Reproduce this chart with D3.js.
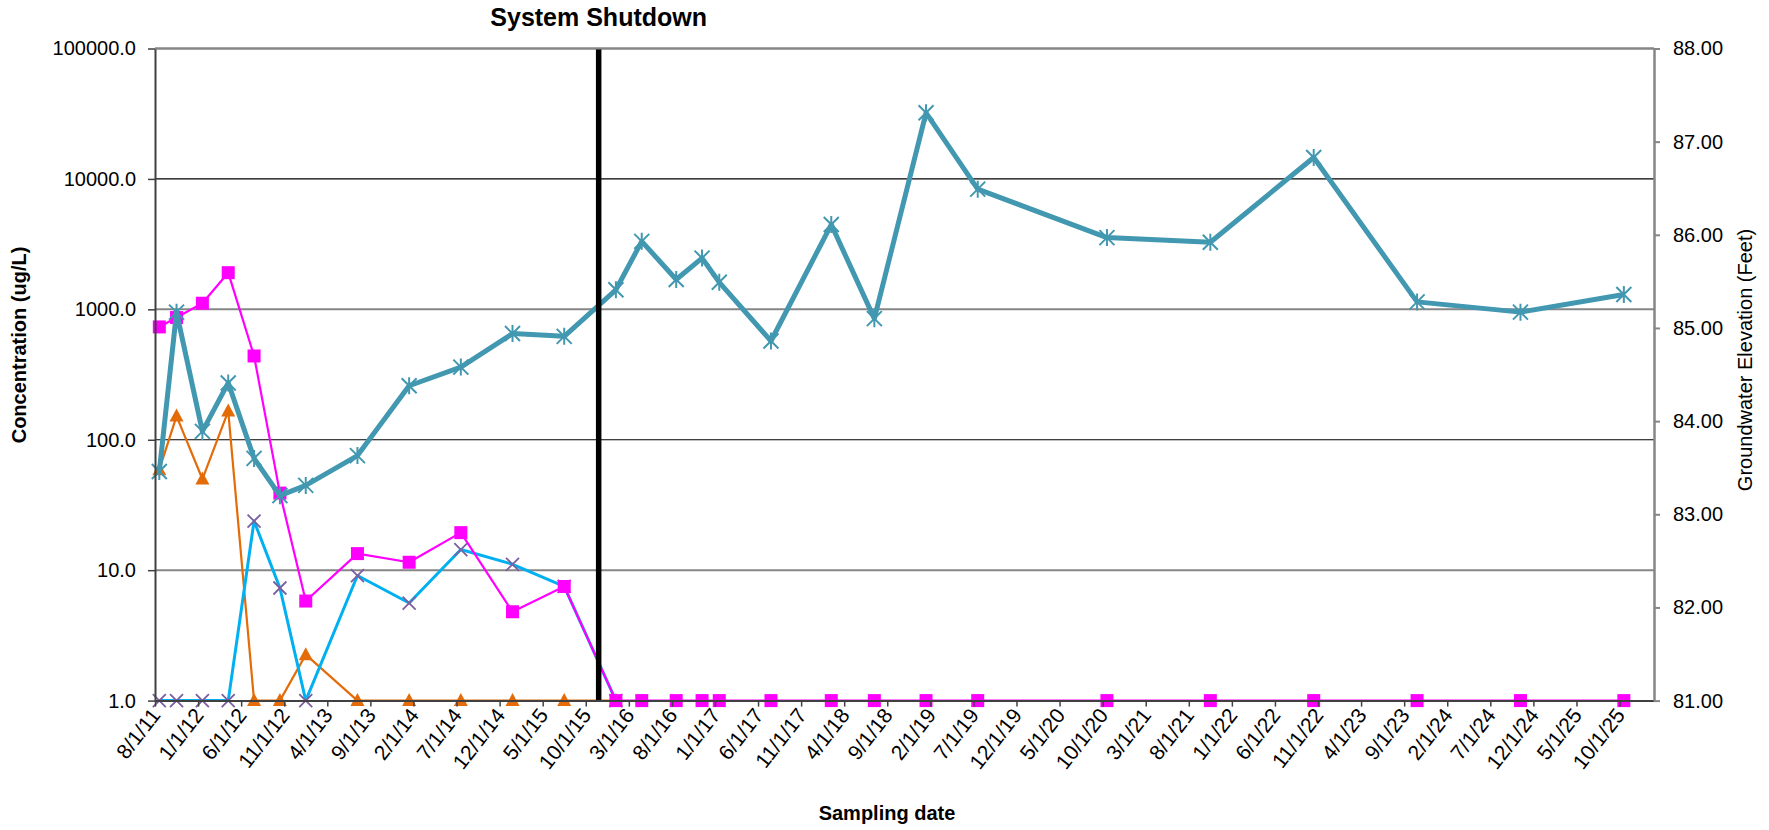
<!DOCTYPE html>
<html><head><meta charset="utf-8">
<script src="https://cdn.jsdelivr.net/npm/d3@7"></script>
<style>
body{margin:0;background:#fff;}
text{font-family:"Liberation Sans",Arial,Helvetica,sans-serif;fill:#000;}
</style>
</head><body>
<svg id="chart" width="1769" height="830"></svg>
<script>
// ---------------- DATA ----------------
const sampleDates = ["2011-08","2011-10","2012-01","2012-04","2012-07","2012-10","2013-01","2013-07",
  "2014-01","2014-07","2015-01","2015-07","2016-01","2016-04","2016-08","2016-11","2017-01","2017-07",
  "2018-02","2018-07","2019-01","2019-07","2020-10","2021-10","2022-10","2023-10","2024-10","2025-10"];
// groundwater elevation (feet), right axis
const groundwaterElevation = [83.46,85.17,83.89,84.41,83.60,83.20,83.31,83.63,
  84.38,84.58,84.94,84.91,85.41,85.93,85.52,85.75,85.49,84.86,
  86.11,85.10,87.31,86.49,85.97,85.92,86.83,85.28,85.17,85.36];
// concentration series (ug/L), left axis
const concSquare = [733,865,1114,1910,439,39,5.8,13.4,11.5,19.4,4.8,7.5,
  1,1,1,1,1,1,1,1,1,1,1,1,1,1,1,1];
const concCross = [1,1,1,1,23.8,7.3,1,9.1,5.6,14.4,11.1,7.5,1];
const concTriangle = [59,152,50,166,1,1,2.25,1,1,1,1,1,1];
const leftTicks = [1,10,100,1000,10000,100000];
const rightTicks = [81,82,83,84,85,86,87,88];
const shutdownMonth = "2015-11";
const shutdownLabel = "System Shutdown";
const axisStartMonth = "2011-08";
const axisMonthCount = 174;
const tickEveryMonths = 5;
const xTitle = "Sampling date";
const yLeftTitle = "Concentration (ug/L)";
const yRightTitle = "Groundwater Elevation (Feet)";

// ---------------- LAYOUT ----------------
const L = 155, R = 1654, T = 48.5, B = 700.6;
const svg = d3.select("#chart");
const parse = d3.timeParse("%Y-%m");
const start = parse(axisStartMonth);
const mIdx = s => d3.timeMonth.count(start, parse(s));
const x = d3.scaleLinear().domain([0, axisMonthCount]).range([L, R]);
const xp = s => x(mIdx(s) + 0.5);          // points sit between tick marks
const yL = d3.scaleLog().domain([1, 100000]).range([B, T]);
const yR = d3.scaleLinear().domain([81, 88]).range([B, T]);
const FONT = '"Liberation Sans",Arial,sans-serif';

// gridlines
const grid = svg.append("g");
leftTicks.slice(1).forEach((v, i) => {
  const gray = (i % 2 === 0);
  grid.append("line").attr("x1", L).attr("x2", R).attr("y1", yL(v)).attr("y2", yL(v))
    .attr("stroke", gray ? "#868686" : "#000").attr("stroke-width", gray ? 2 : 1.2);
});

// ---------------- SERIES ----------------
function drawSeries(vals, color, width, yScale) {
  const pts = vals.map((v, i) => [xp(sampleDates[i]), yScale(v)]);
  svg.append("path").attr("d", d3.line()(pts)).attr("fill", "none")
    .attr("stroke", color).attr("stroke-width", width).attr("stroke-linejoin", "round");
  return pts;
}

// triangle series
const triPts = drawSeries(concTriangle, "#E36C09", 2.2, yL);
svg.append("g").selectAll("path").data(triPts).join("path")
  .attr("transform", d => `translate(${d[0]},${d[1]})`)
  .attr("d", "M0,-7.5L7,5.5L-7,5.5Z").attr("fill", "#E36C09");

// cross series
const crsPts = drawSeries(concCross, "#00B0F0", 3, yL);
svg.append("g").selectAll("path").data(crsPts).join("path")
  .attr("transform", d => `translate(${d[0]},${d[1]})`)
  .attr("d", "M-6.5,-6.5L6.5,6.5M-6.5,6.5L6.5,-6.5").attr("stroke", "#7B5FA0").attr("stroke-width", 1.8).attr("fill", "none");

// square series
const sqPts = drawSeries(concSquare, "#FF00FF", 2.2, yL);
svg.append("g").selectAll("rect").data(sqPts).join("rect")
  .attr("x", d => d[0] - 6.5).attr("y", d => d[1] - 6.5).attr("width", 13).attr("height", 13).attr("fill", "#FF00FF");

// groundwater series
const gwPts = drawSeries(groundwaterElevation, "#4298B0", 5, yR);
svg.append("g").selectAll("path").data(gwPts).join("path")
  .attr("transform", d => `translate(${d[0]},${d[1]})`)
  .attr("d", "M-7.5,-7.5L7.5,7.5M-7.5,7.5L7.5,-7.5M0,-8.5L0,8.5").attr("stroke", "#4298B0").attr("stroke-width", 2).attr("fill", "none");

// shutdown line
const xs = xp(shutdownMonth);
svg.append("line").attr("x1", xs).attr("x2", xs).attr("y1", T).attr("y2", B)
  .attr("stroke", "#000").attr("stroke-width", 5.5);
svg.append("text").attr("x", xs).attr("y", 26).attr("text-anchor", "middle")
  .style("font-size", "25px").style("font-weight", "bold").text(shutdownLabel);

// ---------------- AXES ----------------
const fmtDate = d3.timeFormat("%-m/%-d/%y");
const xTicks = d3.range(0, axisMonthCount, tickEveryMonths);
const gx = svg.append("g").attr("transform", `translate(0,${B})`)
  .call(d3.axisBottom(x).tickValues(xTicks).tickSize(6).tickSizeOuter(0)
    .tickFormat(i => fmtDate(d3.timeMonth.offset(start, i))));
gx.select(".domain").attr("stroke", "#404040").attr("stroke-width", 2);
gx.selectAll(".tick line").attr("stroke", "#404040").attr("stroke-width", 1.5);
gx.selectAll("text").attr("x", 0).attr("y", 0).attr("dy", 0)
  .attr("transform", "translate(6,15) rotate(-52)").style("text-anchor", "end")
  .style("font-size", "21px").style("font-family", FONT).attr("fill", "#000");

const gl = svg.append("g").attr("transform", `translate(${L},0)`)
  .call(d3.axisLeft(yL).tickValues(leftTicks).tickFormat(d3.format(".1f")).tickSize(7).tickSizeOuter(0).tickPadding(12));
gl.select(".domain").attr("stroke", "#404040").attr("stroke-width", 2);
gl.selectAll(".tick line").attr("stroke", "#404040").attr("stroke-width", 1.5);
gl.selectAll("text").style("font-size", "20px").style("font-family", FONT).attr("fill", "#000");

const gr = svg.append("g").attr("transform", `translate(${R},0)`)
  .call(d3.axisRight(yR).tickValues(rightTicks).tickFormat(d3.format(".2f")).tickSize(6).tickSizeOuter(0).tickPadding(13));
gr.select(".domain").attr("stroke", "#868686").attr("stroke-width", 2.5);
gr.selectAll(".tick line").attr("stroke", "#868686").attr("stroke-width", 2);
gr.selectAll("text").style("font-size", "20px").style("font-family", FONT).attr("fill", "#000");

// top border
svg.append("line").attr("x1", L).attr("x2", R).attr("y1", T).attr("y2", T)
  .attr("stroke", "#868686").attr("stroke-width", 2);

// axis titles
svg.append("text").attr("x", 887).attr("y", 820).attr("text-anchor", "middle")
  .style("font-size", "20px").style("font-weight", "bold").text(xTitle);
svg.append("text").attr("transform", "translate(26,345) rotate(-90)").attr("text-anchor", "middle")
  .style("font-size", "20px").style("font-weight", "bold").text(yLeftTitle);
svg.append("text").attr("transform", "translate(1752,360) rotate(-90)").attr("text-anchor", "middle")
  .style("font-size", "20px").text(yRightTitle);
</script>
</body></html>
